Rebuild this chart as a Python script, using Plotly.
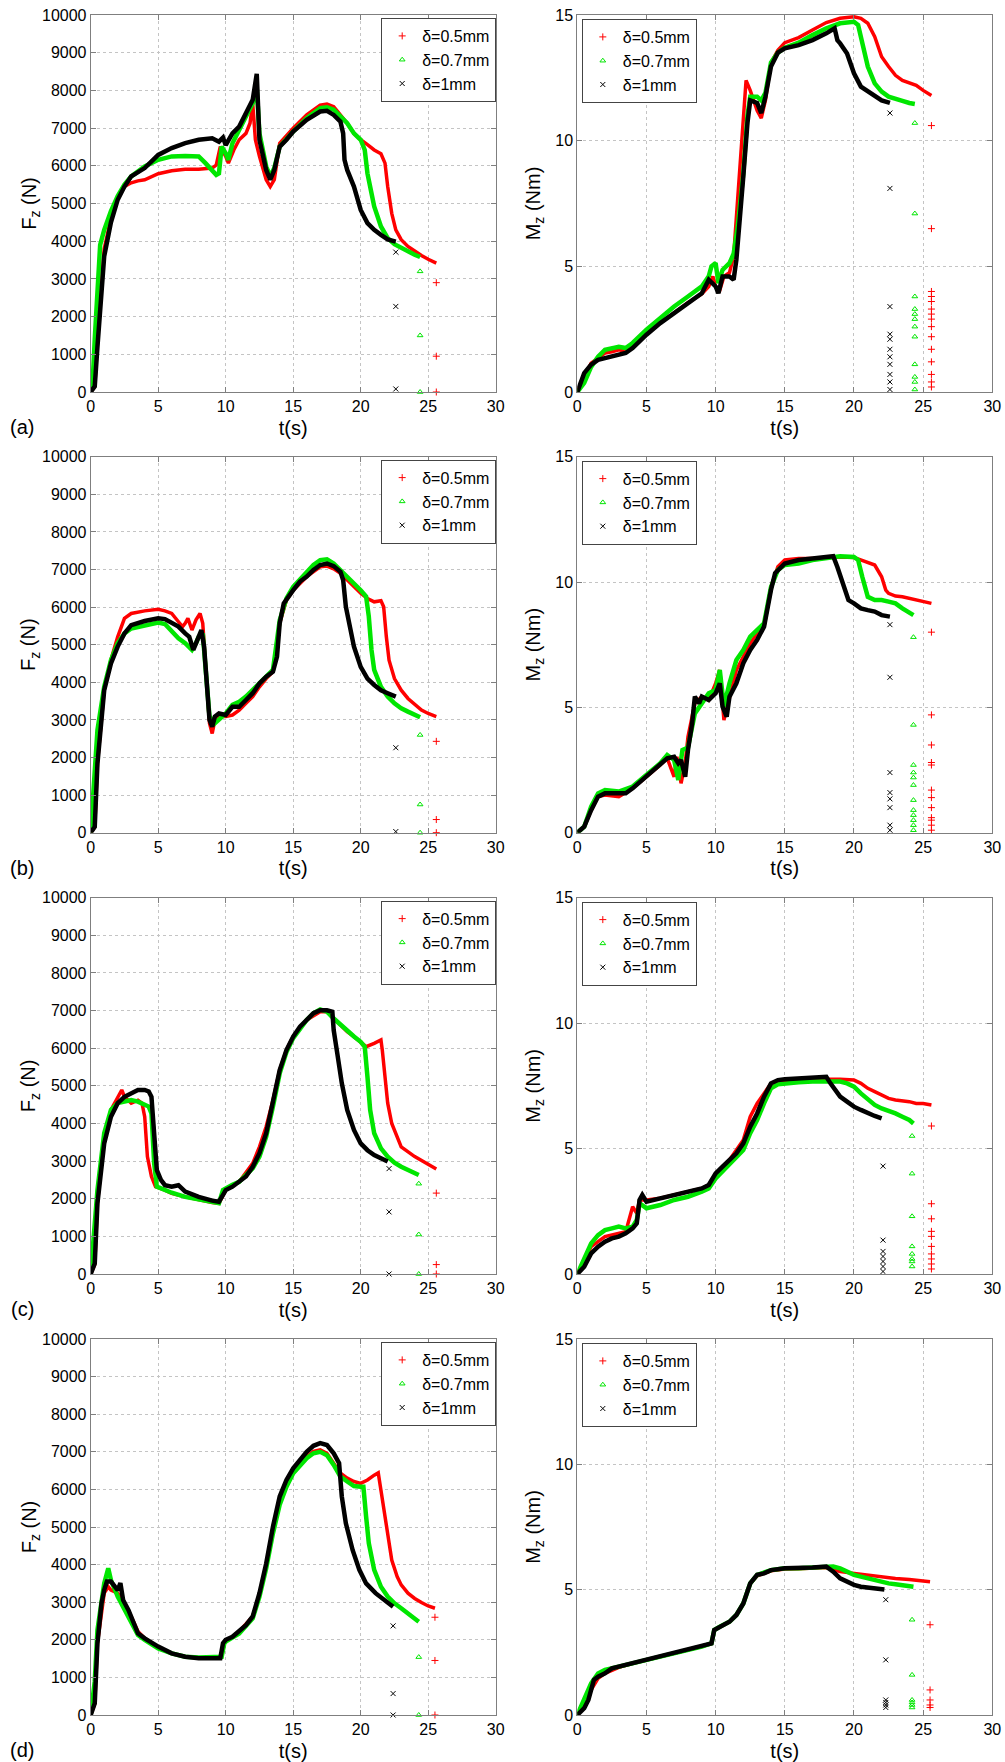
import plotly.graph_objects as go

# ---------------- DATA ----------------
SERIES_NAMES = ["δ=0.5mm", "δ=0.7mm", "δ=1mm"]
PANEL_LABELS = ["(a)", "(b)", "(c)", "(d)"]
X_TICKS = [0, 5, 10, 15, 20, 25, 30]
FZ_TICKS = [0, 1000, 2000, 3000, 4000, 5000, 6000, 7000, 8000, 9000, 10000]
MZ_TICKS = [0, 5, 10, 15]

# ----- panel (a), Fz -----
A_FZ_RED_T = [0, 0.3, 0.5, 0.8, 1.0, 1.5, 2.0, 2.5, 3.0, 3.5, 4.0, 5.0, 6.0, 7.0, 8.0, 9.0, 9.3, 9.6, 10.0, 10.2, 10.6, 11.0, 11.5, 11.8, 12.0, 12.2, 12.5, 13.0, 13.3, 13.6, 14.0, 15.0, 16.0, 17.0, 17.5, 18.0, 18.5, 19.0, 19.5, 20.0, 20.5, 21.0, 21.5, 21.8, 22.0, 22.3, 22.6, 23.0, 23.5, 24.0, 24.5, 25.0, 25.6]
A_FZ_RED_Y = [0, 150, 1300, 2900, 3800, 4600, 5150, 5450, 5550, 5600, 5630, 5790, 5870, 5910, 5910, 5940, 6020, 6510, 6250, 6070, 6420, 6690, 6860, 7130, 7660, 6690, 6250, 5630, 5450, 5630, 6600, 7000, 7350, 7610, 7640, 7570, 7350, 7130, 6860, 6690, 6560, 6420, 6320, 6070, 5450, 4740, 4300, 4040, 3860, 3730, 3620, 3520, 3420]
A_FZ_RED_TAIL_T = 25.6
A_FZ_RED_TAIL_Y = [2900, 950, 0]
A_FZ_GREEN_T = [0, 0.15, 0.3, 0.5, 0.7, 1.0, 1.5, 2.0, 2.5, 3.0, 4.0, 5.0, 6.0, 7.0, 8.0, 8.5, 9.0, 9.3, 9.5, 9.7, 10.0, 10.2, 10.5, 11.0, 11.5, 12.0, 12.3, 12.5, 13.0, 13.3, 13.6, 14.0, 15.0, 16.0, 17.0, 17.5, 18.0, 18.5, 19.0, 19.5, 20.0, 20.3, 20.5, 20.8, 21.0, 21.5, 22.0, 22.5, 23.0, 23.5, 24.0, 24.4]
A_FZ_GREEN_Y = [0, 300, 1400, 2700, 3900, 4300, 4800, 5200, 5500, 5720, 5980, 6160, 6250, 6260, 6250, 6070, 5890, 5760, 5800, 6510, 6330, 6160, 6600, 6950, 7300, 7660, 8060, 6860, 5980, 5720, 5940, 6510, 6910, 7260, 7530, 7550, 7490, 7310, 7130, 6860, 6690, 6420, 5800, 5270, 4920, 4390, 4080, 3920, 3820, 3730, 3640, 3580]
A_FZ_GREEN_TAIL_T = 24.4
A_FZ_GREEN_TAIL_Y = [3200, 1500, 0]
A_FZ_BLACK_T = [0, 0.3, 0.5, 0.8, 1.0, 1.5, 2.0, 2.5, 3.0, 4.0, 5.0, 6.0, 7.0, 8.0, 9.0, 9.5, 9.8, 10.0, 10.2, 10.5, 11.0, 11.5, 12.0, 12.3, 12.5, 13.0, 13.3, 13.6, 14.0, 14.5, 15.0, 16.0, 17.0, 17.5, 18.0, 18.5, 18.7, 18.8, 19.0, 19.5, 20.0, 20.5, 21.0, 21.5, 22.0, 22.6]
A_FZ_BLACK_Y = [0, 150, 1200, 2700, 3600, 4500, 5100, 5450, 5720, 5940, 6290, 6470, 6600, 6690, 6730, 6640, 6750, 6550, 6700, 6860, 7040, 7390, 7750, 8440, 6690, 5890, 5630, 5890, 6510, 6690, 6910, 7220, 7440, 7460, 7350, 7170, 6860, 6160, 5890, 5450, 4830, 4480, 4300, 4170, 4050, 3990]
A_FZ_BLACK_TAIL_T = 22.6
A_FZ_BLACK_TAIL_Y = [3710, 2270, 80]

# ----- panel (a), Mz -----
A_MZ_RED_T = [0, 0.5, 1.0, 1.5, 2.0, 2.5, 3.0, 3.5, 4.0, 5.0, 6.0, 7.0, 8.0, 9.0, 9.5, 9.8, 10.0, 10.3, 10.6, 11.0, 11.3, 11.75, 12.1, 12.2, 12.5, 13.0, 13.3, 13.6, 14.0, 14.5, 15.0, 16.0, 17.0, 18.0, 19.0, 20.0, 20.5, 21.0, 21.5, 22.0, 22.5, 23.0, 23.5, 24.0, 24.5, 25.0, 25.6]
A_MZ_RED_Y = [0, 0.62, 1.15, 1.35, 1.55, 1.6, 1.68, 1.62, 1.8, 2.3, 2.75, 3.15, 3.55, 3.9, 4.2, 4.6, 4.2, 4.05, 4.6, 4.75, 5.4, 8.9, 11.6, 12.4, 12.0, 11.2, 10.9, 11.6, 13.1, 13.6, 13.9, 14.1, 14.4, 14.7, 14.87, 14.93, 14.87, 14.67, 14.14, 13.34, 12.95, 12.6, 12.4, 12.3, 12.2, 12.0, 11.8]
A_MZ_RED_TAIL_T = 25.6
A_MZ_RED_TAIL_Y = [10.6, 6.5, 4.0, 3.8, 3.6, 3.3, 3.1, 2.9, 2.6, 2.2, 1.7, 1.2, 0.7, 0.4, 0.2]
A_MZ_GREEN_T = [0, 0.5, 1.0, 1.5, 2.0, 3.0, 3.5, 4.0, 5.0, 6.0, 7.0, 8.0, 9.0, 9.5, 9.7, 10.0, 10.2, 10.5, 11.0, 11.3, 11.6, 12.0, 12.3, 12.5, 13.0, 13.3, 13.6, 14.0, 14.5, 15.0, 16.0, 17.0, 18.0, 19.0, 20.0, 20.3, 20.6, 21.0, 21.5, 22.0, 22.5, 23.0, 23.5, 24.0, 24.4]
A_MZ_GREEN_Y = [0, 0.36, 1.0, 1.4, 1.68, 1.8, 1.75, 1.95, 2.48, 2.94, 3.4, 3.8, 4.2, 4.6, 5.0, 5.13, 4.33, 4.86, 5.13, 5.5, 6.6, 8.7, 11.0, 11.75, 11.75, 11.6, 11.9, 13.1, 13.5, 13.7, 13.9, 14.2, 14.47, 14.67, 14.73, 14.6, 13.9, 12.95, 12.28, 11.95, 11.75, 11.65, 11.58, 11.5, 11.46]
A_MZ_GREEN_TAIL_T = 24.4
A_MZ_GREEN_TAIL_Y = [10.7, 7.1, 3.8, 3.3, 3.1, 2.9, 2.6, 2.2, 1.1, 0.6, 0.4, 0.1]
A_MZ_BLACK_T = [0, 0.5, 1.0, 1.5, 2.0, 3.0, 3.5, 4.0, 5.0, 6.0, 7.0, 8.0, 9.0, 9.5, 10.0, 10.2, 10.5, 11.0, 11.3, 11.5, 11.8, 12.0, 12.3, 12.5, 13.0, 13.3, 13.6, 14.0, 14.5, 15.0, 16.0, 17.0, 18.0, 18.6, 18.8, 19.0, 19.5, 20.0, 20.5, 21.0, 21.5, 22.0, 22.6]
A_MZ_BLACK_Y = [0, 0.75, 1.09, 1.28, 1.35, 1.48, 1.55, 1.75, 2.28, 2.74, 3.14, 3.54, 3.93, 4.47, 4.2, 3.93, 4.6, 4.6, 4.47, 5.26, 7.1, 8.57, 10.7, 11.6, 11.5, 11.1, 11.75, 12.95, 13.5, 13.67, 13.8, 14.0, 14.27, 14.47, 14.0, 13.87, 13.47, 12.68, 12.15, 11.95, 11.75, 11.6, 11.5]
A_MZ_BLACK_TAIL_T = 22.6
A_MZ_BLACK_TAIL_Y = [11.1, 8.1, 3.4, 2.3, 2.1, 1.7, 1.4, 1.1, 0.7, 0.4, 0.1]

# ----- panel (b), Fz -----
B_FZ_RED_T = [0, 0.3, 0.5, 1.0, 1.5, 2.0, 2.5, 3.0, 4.0, 5.0, 5.5, 6.0, 6.5, 6.8, 7.0, 7.2, 7.5, 7.8, 8.1, 8.3, 8.5, 8.8, 9.0, 9.2, 9.5, 10.0, 10.5, 11.0, 11.5, 12.0, 12.5, 13.0, 13.5, 14.0, 14.5, 15.0, 16.0, 17.0, 17.5, 18.0, 18.5, 19.0, 19.5, 20.0, 20.5, 21.0, 21.5, 21.7, 21.9, 22.1, 22.5, 23.0, 23.5, 24.0, 24.5, 25.0, 25.6]
B_FZ_RED_Y = [0, 150, 1850, 3790, 4600, 5210, 5700, 5830, 5900, 5940, 5900, 5830, 5610, 5480, 5570, 5700, 5390, 5660, 5830, 5570, 4500, 2910, 2640, 3000, 3090, 3090, 3130, 3260, 3440, 3620, 3880, 4100, 4280, 5570, 6190, 6450, 6810, 7070, 7090, 7020, 6900, 6720, 6540, 6370, 6230, 6140, 6170, 6010, 5210, 4590, 4100, 3790, 3570, 3400, 3260, 3170, 3090]
B_FZ_RED_TAIL_T = 25.6
B_FZ_RED_TAIL_Y = [2430, 350, 0]
B_FZ_GREEN_T = [0, 0.2, 0.5, 1.0, 1.5, 2.0, 2.5, 3.0, 4.0, 5.0, 5.5, 6.0, 6.5, 7.0, 7.5, 7.8, 8.0, 8.3, 8.5, 8.8, 9.2, 9.5, 10.0, 10.5, 11.0, 11.5, 12.0, 12.5, 13.0, 13.5, 14.0, 14.5, 15.0, 16.0, 16.5, 17.0, 17.5, 18.0, 18.5, 19.0, 19.5, 20.0, 20.4, 20.6, 20.8, 21.0, 21.5, 22.0, 22.5, 23.0, 23.5, 24.0, 24.4]
B_FZ_GREEN_Y = [0, 960, 2730, 3880, 4590, 5040, 5300, 5430, 5520, 5590, 5550, 5350, 5170, 5040, 4860, 5040, 5210, 5300, 4500, 3090, 2910, 3000, 3170, 3400, 3480, 3620, 3790, 3970, 4150, 4330, 5650, 6230, 6540, 6900, 7120, 7250, 7270, 7160, 6990, 6810, 6630, 6450, 6280, 5750, 4860, 4330, 3880, 3620, 3440, 3310, 3220, 3130, 3070]
B_FZ_GREEN_TAIL_T = 24.4
B_FZ_GREEN_TAIL_Y = [2600, 750, 0]
B_FZ_BLACK_T = [0, 0.3, 0.5, 0.8, 1.0, 1.5, 2.0, 2.5, 3.0, 4.0, 5.0, 5.5, 6.0, 6.5, 7.0, 7.3, 7.6, 8.0, 8.2, 8.4, 8.6, 8.8, 9.0, 9.2, 9.5, 10.0, 10.5, 11.0, 11.5, 12.0, 12.5, 13.0, 13.5, 13.8, 14.0, 14.3, 15.0, 15.5, 16.0, 16.5, 17.0, 17.5, 18.0, 18.5, 18.7, 18.9, 19.2, 19.5, 20.0, 20.5, 21.0, 21.5, 22.0, 22.6]
B_FZ_BLACK_Y = [0, 160, 1840, 3170, 3790, 4500, 4950, 5300, 5520, 5630, 5700, 5680, 5570, 5480, 5300, 5210, 4860, 5210, 5390, 4950, 3790, 3000, 2820, 3090, 3170, 3130, 3350, 3350, 3530, 3710, 3970, 4150, 4280, 4680, 5570, 6100, 6450, 6680, 6810, 6990, 7120, 7160, 7090, 6940, 6720, 6010, 5480, 4950, 4410, 4100, 3930, 3790, 3710, 3620]
B_FZ_BLACK_TAIL_T = 22.6
B_FZ_BLACK_TAIL_Y = [2260, 30]

# ----- panel (b), Mz -----
B_MZ_RED_T = [0, 0.5, 1.0, 1.5, 2.0, 3.0, 4.0, 5.0, 6.0, 6.5, 7.0, 7.2, 7.5, 7.8, 8.0, 8.3, 8.5, 9.0, 9.5, 10.0, 10.3, 10.6, 11.0, 11.5, 12.0, 12.5, 13.0, 13.5, 14.0, 14.5, 15.0, 16.0, 17.0, 18.0, 19.0, 20.0, 20.5, 21.0, 21.5, 22.0, 22.3, 22.5, 23.0, 23.5, 24.0, 24.5, 25.0, 25.6]
B_MZ_RED_Y = [0, 0.24, 0.9, 1.44, 1.5, 1.44, 1.77, 2.23, 2.7, 2.97, 2.23, 3.03, 1.97, 2.77, 3.83, 4.63, 5.16, 5.43, 5.29, 5.96, 6.49, 4.49, 5.43, 6.49, 7.02, 7.55, 7.95, 8.22, 9.8, 10.61, 10.88, 10.94, 10.94, 10.98, 11.0, 10.98, 10.88, 10.81, 10.68, 10.21, 9.68, 9.55, 9.44, 9.41, 9.35, 9.28, 9.22, 9.15]
B_MZ_RED_TAIL_T = 25.6
B_MZ_RED_TAIL_Y = [8.0, 4.7, 3.5, 2.8, 2.7, 1.7, 1.4, 1.0, 0.6, 0.5, 0.3, 0.1]
B_MZ_GREEN_T = [0, 0.5, 1.0, 1.5, 2.0, 3.0, 4.0, 5.0, 6.0, 6.5, 7.0, 7.3, 7.6, 8.0, 8.5, 9.0, 9.5, 10.0, 10.3, 10.6, 11.0, 11.5, 12.0, 12.5, 13.0, 13.5, 14.0, 14.5, 15.0, 16.0, 17.0, 18.0, 19.0, 20.0, 20.3, 20.6, 21.0, 21.5, 22.0, 22.5, 23.0, 23.5, 24.0, 24.3]
B_MZ_GREEN_Y = [0, 0.24, 1.04, 1.57, 1.7, 1.64, 1.84, 2.3, 2.77, 3.1, 2.9, 2.1, 3.3, 3.4, 4.76, 5.16, 5.56, 5.69, 6.49, 5.03, 5.96, 6.89, 7.29, 7.82, 8.09, 8.35, 9.8, 10.48, 10.68, 10.74, 10.88, 10.97, 11.03, 11.0, 10.88, 10.21, 9.41, 9.28, 9.28, 9.22, 9.15, 8.95, 8.75, 8.68]
B_MZ_GREEN_TAIL_T = 24.3
B_MZ_GREEN_TAIL_Y = [7.8, 4.3, 2.7, 2.4, 2.2, 1.9, 1.3, 0.9, 0.7, 0.5, 0.3, 0.1]
B_MZ_BLACK_T = [0, 0.5, 1.0, 1.5, 2.0, 3.0, 3.5, 4.0, 5.0, 6.0, 6.5, 7.0, 7.3, 7.5, 7.8, 8.0, 8.3, 8.5, 8.8, 9.0, 9.5, 10.0, 10.3, 10.5, 10.8, 11.0, 11.5, 12.0, 12.5, 13.0, 13.5, 14.0, 14.3, 15.0, 16.0, 17.0, 18.0, 18.5, 18.8, 19.3, 19.6, 20.0, 20.5, 21.0, 21.5, 22.0, 22.6]
B_MZ_BLACK_Y = [0, 0.24, 0.9, 1.44, 1.57, 1.57, 1.57, 1.77, 2.23, 2.7, 2.97, 3.03, 2.77, 2.9, 2.23, 3.3, 4.36, 5.43, 5.16, 5.43, 5.29, 5.56, 5.96, 5.03, 4.63, 5.43, 5.96, 6.76, 7.29, 7.69, 8.22, 9.68, 10.35, 10.74, 10.88, 10.94, 11.0, 11.03, 10.6, 9.8, 9.28, 9.15, 8.95, 8.88, 8.82, 8.68, 8.62]
B_MZ_BLACK_TAIL_T = 22.6
B_MZ_BLACK_TAIL_Y = [8.3, 6.2, 2.4, 1.6, 1.35, 1.0, 0.3, 0.1]

# ----- panel (c), Fz -----
C_FZ_RED_T = [0, 0.3, 0.5, 1.0, 1.5, 2.0, 2.3, 2.5, 3.0, 3.5, 3.8, 4.0, 4.2, 4.5, 4.8, 5.5, 6.0, 7.0, 8.0, 9.0, 9.5, 9.8, 10.0, 11.0, 12.0, 12.5, 13.0, 13.5, 14.0, 14.5, 15.0, 16.0, 17.0, 17.5, 18.0, 18.5, 19.0, 19.5, 20.0, 20.4, 21.0, 21.5, 21.6, 21.8, 22.0, 22.3, 22.7, 23.0, 24.0, 25.0, 25.6]
C_FZ_RED_Y = [0, 250, 1880, 3650, 4360, 4710, 4890, 4710, 4540, 4620, 4540, 4180, 3120, 2590, 2320, 2230, 2140, 2050, 1970, 1900, 1880, 2100, 2230, 2450, 2940, 3380, 3920, 4620, 5420, 5950, 6310, 6750, 6970, 6970, 6790, 6620, 6440, 6310, 6170, 6040, 6130, 6220, 5950, 5240, 4540, 4000, 3650, 3380, 3120, 2900, 2790]
C_FZ_RED_TAIL_T = 25.6
C_FZ_RED_TAIL_Y = [2150, 250, 0]
C_FZ_GREEN_T = [0, 0.2, 0.5, 1.0, 1.5, 2.0, 2.5, 3.0, 3.5, 4.0, 4.3, 4.5, 4.7, 4.9, 5.5, 6.0, 7.0, 8.0, 9.0, 9.5, 9.8, 10.0, 10.5, 11.0, 12.0, 12.5, 13.0, 13.5, 14.0, 14.5, 15.0, 16.0, 16.5, 17.0, 17.5, 18.0, 18.5, 19.0, 19.5, 20.0, 20.3, 20.5, 20.7, 21.0, 21.5, 22.0, 22.5, 23.0, 23.5, 24.0, 24.3]
C_FZ_GREEN_Y = [0, 800, 2230, 3740, 4360, 4540, 4580, 4620, 4580, 4490, 4450, 4270, 2940, 2320, 2230, 2160, 2050, 1970, 1900, 1880, 2230, 2280, 2370, 2450, 2810, 3120, 3650, 4450, 5330, 5900, 6270, 6750, 6930, 7030, 6970, 6790, 6620, 6440, 6310, 6170, 6040, 5240, 4360, 3740, 3340, 3120, 2960, 2850, 2760, 2670, 2630]
C_FZ_GREEN_TAIL_T = 24.3
C_FZ_GREEN_TAIL_Y = [2400, 1050, 0]
C_FZ_BLACK_T = [0, 0.3, 0.5, 0.8, 1.0, 1.5, 2.0, 2.5, 3.0, 3.5, 4.0, 4.3, 4.5, 4.7, 4.9, 5.2, 5.5, 6.0, 6.5, 7.0, 8.0, 9.0, 9.5, 9.8, 10.0, 10.5, 11.0, 11.5, 12.0, 12.5, 13.0, 13.5, 14.0, 14.5, 15.0, 15.5, 16.0, 16.5, 17.0, 17.5, 17.9, 18.0, 18.3, 18.6, 19.0, 19.5, 20.0, 20.5, 21.0, 21.5, 22.0]
C_FZ_BLACK_Y = [0, 280, 1880, 2940, 3470, 4180, 4540, 4710, 4800, 4890, 4890, 4850, 4710, 3650, 2760, 2500, 2360, 2320, 2360, 2190, 2050, 1950, 1920, 2100, 2230, 2320, 2450, 2590, 2850, 3210, 3740, 4540, 5420, 5950, 6310, 6570, 6750, 6930, 7010, 7010, 6970, 6480, 5780, 5070, 4360, 3830, 3470, 3290, 3160, 3070, 2990]
C_FZ_BLACK_TAIL_T = 22.1
C_FZ_BLACK_TAIL_Y = [2800, 1650, 0]

# ----- panel (c), Mz -----
C_MZ_RED_T = [0, 0.5, 1.0, 2.0, 3.0, 3.5, 3.8, 4.0, 4.3, 4.5, 5.0, 6.0, 7.0, 8.0, 9.0, 9.5, 10.0, 11.0, 12.0, 12.5, 13.0, 13.5, 14.0, 15.0, 16.0, 17.0, 18.0, 19.0, 20.0, 20.5, 21.0, 21.5, 22.0, 22.5, 23.0, 23.5, 24.0, 24.5, 25.0, 25.6]
C_MZ_RED_Y = [0, 0.56, 1.09, 1.49, 1.62, 1.69, 2.28, 2.68, 2.42, 2.95, 2.95, 3.02, 3.15, 3.28, 3.41, 3.55, 3.94, 4.54, 5.34, 6.27, 6.8, 7.2, 7.6, 7.67, 7.71, 7.73, 7.76, 7.76, 7.73, 7.6, 7.4, 7.27, 7.14, 7.0, 6.94, 6.91, 6.87, 6.8, 6.8, 6.74]
C_MZ_RED_TAIL_T = 25.6
C_MZ_RED_TAIL_Y = [5.9, 2.8, 2.2, 1.7, 1.5, 1.1, 0.8, 0.6, 0.4, 0.2]
C_MZ_GREEN_T = [0, 0.5, 1.0, 1.5, 2.0, 2.5, 3.0, 3.5, 4.0, 4.3, 4.5, 5.0, 6.0, 7.0, 8.0, 9.0, 9.5, 10.0, 10.5, 11.0, 11.5, 12.0, 12.5, 13.0, 13.5, 14.0, 14.5, 15.0, 16.0, 17.0, 18.0, 19.0, 19.5, 20.0, 20.5, 21.0, 21.5, 22.0, 22.5, 23.0, 23.5, 24.0, 24.3]
C_MZ_GREEN_Y = [0, 0.56, 1.22, 1.55, 1.75, 1.82, 1.89, 1.82, 1.89, 2.15, 2.82, 2.62, 2.75, 2.95, 3.08, 3.28, 3.41, 3.81, 4.08, 4.34, 4.61, 4.94, 5.61, 6.14, 6.8, 7.4, 7.56, 7.6, 7.64, 7.67, 7.69, 7.67, 7.6, 7.47, 7.2, 6.94, 6.74, 6.6, 6.51, 6.4, 6.27, 6.14, 6.0]
C_MZ_GREEN_TAIL_T = 24.2
C_MZ_GREEN_TAIL_Y = [5.5, 4.0, 2.3, 1.1, 0.8, 0.6, 0.5, 0.3]
C_MZ_BLACK_T = [0, 0.5, 1.0, 1.5, 2.0, 2.5, 3.0, 3.5, 4.0, 4.3, 4.5, 4.7, 5.0, 6.0, 7.0, 8.0, 9.0, 9.5, 10.0, 10.5, 11.0, 11.5, 12.0, 12.5, 13.0, 13.5, 14.0, 14.5, 15.0, 16.0, 17.0, 18.0, 18.3, 18.7, 19.0, 19.5, 20.0, 20.5, 21.0, 21.5, 22.0]
C_MZ_BLACK_Y = [0, 0.29, 0.82, 1.09, 1.29, 1.42, 1.49, 1.62, 1.82, 2.02, 2.95, 3.15, 2.88, 3.02, 3.15, 3.28, 3.41, 3.55, 4.01, 4.28, 4.54, 4.81, 5.21, 5.87, 6.4, 7.07, 7.6, 7.73, 7.76, 7.8, 7.84, 7.86, 7.6, 7.27, 7.07, 6.87, 6.67, 6.54, 6.4, 6.3, 6.2]
C_MZ_BLACK_TAIL_T = 22.1
C_MZ_BLACK_TAIL_Y = [4.3, 1.35, 0.9, 0.7, 0.5, 0.3, 0.1]

# ----- panel (d), Fz -----
D_FZ_RED_T = [0, 0.3, 0.5, 1.0, 1.3, 1.5, 2.0, 2.5, 3.0, 3.5, 4.0, 5.0, 6.0, 7.0, 8.0, 9.0, 9.7, 9.9, 10.0, 11.0, 12.0, 12.5, 13.0, 13.5, 14.0, 14.5, 15.0, 16.0, 16.5, 17.0, 17.5, 18.0, 18.5, 19.0, 19.5, 20.0, 20.5, 21.0, 21.3, 21.5, 21.8, 22.0, 22.3, 22.7, 23.0, 23.5, 24.0, 24.5, 25.0, 25.5]
D_FZ_RED_Y = [0, 300, 1910, 3240, 3410, 3320, 3240, 2970, 2620, 2220, 2040, 1800, 1640, 1550, 1520, 1520, 1550, 1910, 1950, 2220, 2620, 3190, 3990, 4920, 5680, 6160, 6470, 6870, 7010, 7050, 6960, 6690, 6430, 6300, 6210, 6160, 6250, 6380, 6440, 5980, 5280, 4740, 4120, 3680, 3460, 3240, 3100, 2990, 2900, 2840]
D_FZ_RED_TAIL_T = 25.5
D_FZ_RED_TAIL_Y = [2600, 1450, 0]
D_FZ_GREEN_T = [0, 0.3, 0.5, 0.8, 1.0, 1.3, 1.5, 2.0, 2.5, 3.0, 3.5, 4.0, 5.0, 6.0, 7.0, 8.0, 9.0, 9.7, 9.9, 10.0, 11.0, 12.0, 12.5, 13.0, 13.5, 14.0, 14.5, 15.0, 16.0, 16.5, 17.0, 17.5, 18.0, 18.5, 19.0, 19.5, 20.0, 20.2, 20.4, 20.6, 21.0, 21.5, 22.0, 22.5, 23.0, 23.5, 24.0, 24.3]
D_FZ_GREEN_Y = [0, 900, 2260, 3150, 3500, 3900, 3590, 3150, 2790, 2440, 2130, 2000, 1770, 1640, 1550, 1530, 1550, 1550, 1910, 1950, 2170, 2570, 3150, 3900, 4830, 5590, 6070, 6430, 6830, 6960, 7000, 6910, 6650, 6340, 6210, 6090, 6070, 6070, 5280, 4570, 3860, 3410, 3150, 2970, 2840, 2700, 2570, 2480]
D_FZ_GREEN_TAIL_T = 24.3
D_FZ_GREEN_TAIL_Y = [1540, 0]
D_FZ_BLACK_T = [0, 0.3, 0.5, 0.8, 1.0, 1.2, 1.5, 1.8, 2.0, 2.2, 2.4, 2.8, 3.0, 3.5, 4.0, 5.0, 6.0, 7.0, 8.0, 9.0, 9.6, 9.8, 10.0, 10.5, 11.0, 11.5, 12.0, 12.5, 13.0, 13.5, 14.0, 14.5, 15.0, 15.5, 16.0, 16.5, 17.0, 17.5, 18.0, 18.4, 18.6, 18.9, 19.4, 19.9, 20.4, 21.1, 21.9, 22.4]
D_FZ_BLACK_Y = [0, 310, 1910, 2970, 3320, 3550, 3550, 3410, 3320, 3510, 3060, 2790, 2620, 2170, 2040, 1820, 1640, 1550, 1510, 1510, 1510, 1910, 2000, 2080, 2220, 2390, 2620, 3240, 4030, 5010, 5810, 6250, 6560, 6780, 7000, 7160, 7230, 7180, 6960, 6700, 5810, 5100, 4390, 3860, 3500, 3240, 3010, 2880]
D_FZ_BLACK_TAIL_T = 22.4
D_FZ_BLACK_TAIL_Y = [2370, 570, 0]

# ----- panel (d), Mz -----
D_MZ_RED_T = [0, 0.5, 1.0, 1.5, 2.0, 3.0, 4.0, 5.0, 6.0, 7.0, 8.0, 9.0, 9.7, 9.9, 10.3, 11.0, 11.5, 12.0, 12.5, 13.0, 14.0, 15.0, 16.0, 17.0, 18.0, 19.0, 20.0, 21.0, 22.0, 23.0, 24.0, 25.0, 25.5]
D_MZ_RED_Y = [0, 0.4, 1.0, 1.46, 1.66, 1.9, 2.06, 2.19, 2.33, 2.46, 2.59, 2.73, 2.86, 3.39, 3.52, 3.72, 3.99, 4.45, 5.25, 5.55, 5.75, 5.82, 5.83, 5.85, 5.88, 5.72, 5.65, 5.59, 5.52, 5.45, 5.41, 5.36, 5.32]
D_MZ_RED_TAIL_T = 25.5
D_MZ_RED_TAIL_Y = [3.6, 1.0, 0.6, 0.4, 0.3]
D_MZ_GREEN_T = [0, 0.5, 1.0, 1.5, 2.0, 3.0, 4.0, 5.0, 6.0, 7.0, 8.0, 9.0, 9.7, 9.9, 10.3, 11.0, 11.5, 12.0, 12.5, 13.0, 14.0, 15.0, 16.0, 17.0, 18.0, 18.5, 19.0, 19.5, 20.0, 20.5, 21.0, 21.5, 22.0, 22.5, 23.0, 23.5, 24.0, 24.3]
D_MZ_GREEN_Y = [0, 0.66, 1.26, 1.66, 1.8, 1.93, 2.06, 2.19, 2.33, 2.46, 2.59, 2.73, 2.86, 3.39, 3.52, 3.72, 3.99, 4.45, 5.25, 5.59, 5.78, 5.85, 5.85, 5.88, 5.92, 5.92, 5.85, 5.72, 5.59, 5.52, 5.45, 5.39, 5.32, 5.25, 5.22, 5.19, 5.15, 5.12]
D_MZ_GREEN_TAIL_T = 24.2
D_MZ_GREEN_TAIL_Y = [3.8, 1.6, 0.6, 0.5, 0.4, 0.3]
D_MZ_BLACK_T = [0, 0.5, 0.8, 1.0, 1.2, 1.5, 2.0, 2.5, 3.0, 4.0, 5.0, 6.0, 7.0, 8.0, 9.0, 9.7, 9.9, 10.3, 11.0, 11.5, 12.0, 12.5, 13.0, 13.5, 14.0, 15.0, 16.0, 17.0, 18.0, 18.5, 19.0, 19.5, 20.0, 20.5, 21.0, 21.5, 22.2]
D_MZ_BLACK_Y = [0, 0.27, 0.6, 1.0, 1.4, 1.53, 1.66, 1.86, 1.93, 2.06, 2.19, 2.33, 2.46, 2.59, 2.73, 2.86, 3.39, 3.52, 3.72, 3.99, 4.45, 5.25, 5.59, 5.65, 5.78, 5.85, 5.85, 5.88, 5.92, 5.72, 5.45, 5.32, 5.19, 5.12, 5.08, 5.05, 5.01]
D_MZ_BLACK_TAIL_T = 22.3
D_MZ_BLACK_TAIL_Y = [4.6, 2.2, 0.6, 0.5, 0.4, 0.3]

# ---------------- FIGURE ----------------
W, H = 1005, 1762
COLORS = ["#ff0000", "#00e600", "#000000"]
SYMBOLS = ["cross-thin", "triangle-up-open", "x-thin"]
LINE_W = [3.5, 4.5, 4.5]

ns = globals()
rows = ["A", "B", "C", "D"]
quant = ["FZ", "MZ"]
colkeys = ["RED", "GREEN", "BLACK"]

# pixel geometry of the axes boxes
col_px = [(90.7, 495.7), (577.3, 992.3)]
row_px = [(15, 392), (456.7, 832.7), (897.7, 1274), (1339, 1715)]
ytitle_standoff = [0, 9]

fig = go.Figure()
layout = dict(
    width=W, height=H, margin=dict(l=0, r=0, t=0, b=0),
    paper_bgcolor="white", plot_bgcolor="white",
    font=dict(family="Liberation Sans, Arial, sans-serif", color="black"),
    annotations=[],
)

idx = 0
for r, rk in enumerate(rows):
    for c, qk in enumerate(quant):
        idx += 1
        sfx = "" if idx == 1 else str(idx)
        xa, ya = "x" + sfx, "y" + sfx
        lg = "legend" + sfx
        for k, ck in enumerate(colkeys):
            base = f"{rk}_{qk}_{ck}"
            fig.add_trace(go.Scatter(
                x=ns[base + "_T"], y=ns[base + "_Y"], mode="lines",
                line=dict(color=COLORS[k], width=LINE_W[k]),
                xaxis=xa, yaxis=ya, showlegend=False, hoverinfo="skip"))
        for k, ck in enumerate(colkeys):
            base = f"{rk}_{qk}_{ck}"
            ty = ns[base + "_TAIL_Y"]
            tt = [ns[base + "_TAIL_T"]] * len(ty)
            fig.add_trace(go.Scatter(
                x=tt, y=ty, mode="markers", name=SERIES_NAMES[k],
                marker=dict(symbol=SYMBOLS[k], size=5, color=COLORS[k],
                            line=dict(color=COLORS[k], width=1)),
                cliponaxis=False, xaxis=xa, yaxis=ya, legend=lg))

        x0, x1 = col_px[c]
        y0, y1 = row_px[r]
        axis_common = dict(
            showline=True, linecolor="#7f7f7f", linewidth=1, mirror="ticks",
            ticks="inside", ticklen=5, tickcolor="#7f7f7f",
            showgrid=True, gridcolor="#c4c4c4", griddash="dot", gridwidth=1,
            zeroline=False, tickfont=dict(size=16, color="black"),
            automargin=False, tickformat="d",
        )
        layout["xaxis" + sfx] = dict(
            axis_common, domain=[x0 / W, x1 / W], range=[0, 30],
            tickvals=X_TICKS, anchor=ya,
            title=dict(text="t(s)", font=dict(size=20), standoff=6))
        if qk == "FZ":
            ytitle, yr, yt = "F<sub>z</sub> (N)", [0, 10000], FZ_TICKS
        else:
            ytitle, yr, yt = "M<sub>z</sub> (Nm)", [0, 15], MZ_TICKS
        layout["yaxis" + sfx] = dict(
            axis_common, domain=[1 - y1 / H, 1 - y0 / H], range=yr,
            tickvals=yt, anchor=xa,
            title=dict(text=ytitle, font=dict(size=20),
                       standoff=ytitle_standoff[c]))
        if c == 0:
            leg = dict(x=(x1 + 0.5) / W, xanchor="right",
                       y=1 - (y0 + 3) / H, yanchor="top")
        else:
            leg = dict(x=(x0 + 4.5) / W, xanchor="left",
                       y=1 - (y0 + 4) / H, yanchor="top")
        layout[lg] = dict(leg, bgcolor="white", bordercolor="#444444",
                          borderwidth=1, font=dict(size=16),
                          itemsizing="trace")
    # panel label
    layout["annotations"].append(dict(
        text=PANEL_LABELS[r], x=22 / W, y=1 - (row_px[r][1] + 35) / H,
        xref="paper", yref="paper", showarrow=False,
        font=dict(size=20), xanchor="center", yanchor="middle"))

fig.update_layout(**layout)
fig.write_html("out.html", config={"displayModeBar": False},
               post_script="document.body.style.margin='0px';")
